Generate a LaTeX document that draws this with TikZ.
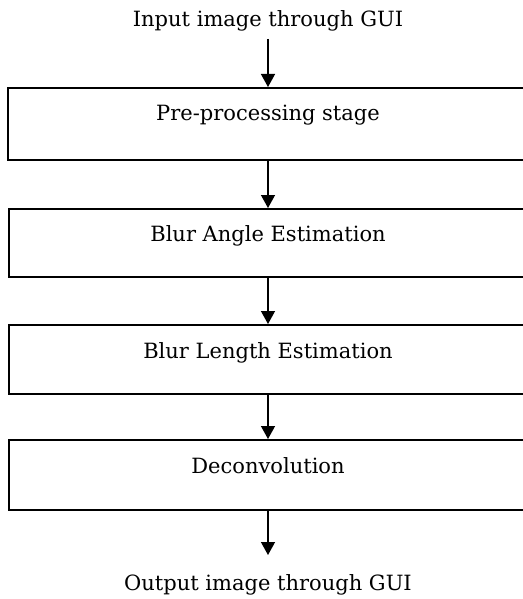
\documentclass[tikz,border=0pt]{standalone}
\usepackage{fontspec}
\setmainfont{DejaVu Serif}
\usetikzlibrary{arrows.meta}
\begin{document}
\begin{tikzpicture}[x=1pt,y=-1pt,
  stagebox/.style={draw, line width=1.7pt, rectangle, inner sep=0pt, minimum width=518pt, anchor=north, font=\fontsize{21}{24}\selectfont},
  plaintext/.style={inner sep=0pt, font=\fontsize{21}{24}\selectfont},
  arr/.style={line width=1.4pt, -{Triangle[width=14pt,length=13pt]}}]
\useasboundingbox (0,0) rectangle (522,599);
\node[plaintext, anchor=south, text depth=12pt] (in) at (268,39) {Input image through GUI};
\node[stagebox, minimum width=520pt, text height=33pt, text depth=39pt] (b1) at (268,87) {Pre-processing stage};
\node[stagebox, text height=33pt, text depth=35pt] (b2) at (268,208) {Blur Angle Estimation};
\node[stagebox, text height=34pt, text depth=35pt] (b3) at (268,324) {Blur Length Estimation};
\node[stagebox, text height=34pt, text depth=36pt] (b4) at (268,439) {Deconvolution};
\node[plaintext, anchor=north, text height=35pt] (out) at (268,555) {Output image through GUI};
\draw[arr] (in.south) -- (b1.north);
\draw[arr] (b1.south) -- (b2.north);
\draw[arr] (b2.south) -- (b3.north);
\draw[arr] (b3.south) -- (b4.north);
\draw[arr] (b4.south) -- (out.north);
\end{tikzpicture}
\end{document}
